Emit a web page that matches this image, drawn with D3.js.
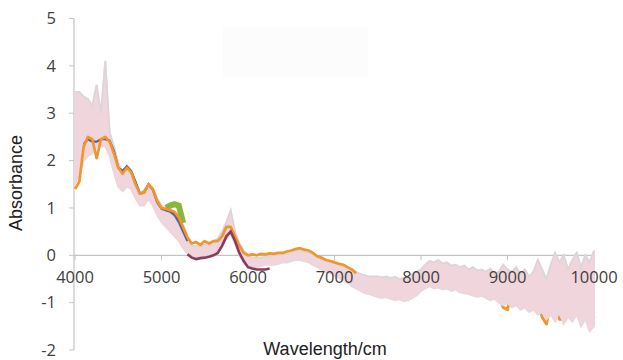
<!DOCTYPE html>
<html><head><meta charset="utf-8">
<script src="https://cdn.jsdelivr.net/npm/d3@7"></script>
<style>body{margin:0;background:#fff}svg{display:block}</style>
</head><body>
<svg id="c" width="623" height="360"></svg>
<script>
// Wavenumber grid (cm-1)
const wavenumber = [4000,4050,4100,4150,4200,4250,4300,4350,4400,4450,4500,4550,4600,4650,4700,4750,4800,4850,4900,4950,
5000,5050,5100,5150,5200,5250,5300,5350,5400,5450,5500,5550,5600,5650,5700,5750,5800,5850,5900,5950,
6000,6050,6100,6150,6200,6250,6300,6350,6400,6450,6500,6550,6600,6650,6700,6750,6800,6850,6900,6950,
7000,7050,7100,7150,7200,7250,7300,7350,7400,7450,7500,7550,7600,7650,7700,7750,7800,7850,7900,7950,
8000,8050,8100,8150,8200,8250,8300,8350,8400,8450,8500,8550,8600,8650,8700,8750,8800,8850,8900,8950,
9000,9050,9100,9150,9200,9250,9300,9350,9400,9450,9500,9550,9600,9650,9700,9750,9800,9850,9900,9950,10000];

// Upper edge of the overlapping spectra band
const bandTop = [3.45,3.45,3.35,3.3,3.15,3.6,3.0,4.1,2.6,2.3,1.95,1.75,1.8,1.7,1.45,1.3,1.35,1.5,1.4,1.2,
1.05,0.95,0.88,0.8,0.65,0.45,0.3,0.2,0.2,0.2,0.22,0.25,0.3,0.35,0.5,0.7,0.95,0.5,0.25,0.1,
0.0,-0.05,-0.05,-0.05,-0.03,-0.02,0.0,0.0,0.02,0.03,0.05,0.08,0.1,0.08,0.05,0.0,-0.05,-0.08,-0.1,-0.12,
-0.15,-0.18,-0.2,-0.25,-0.3,-0.35,-0.4,-0.42,-0.45,-0.45,-0.45,-0.47,-0.45,-0.48,-0.46,-0.5,-0.48,-0.45,-0.4,-0.35,
-0.3,-0.2,-0.12,-0.15,-0.1,-0.18,-0.15,-0.22,-0.2,-0.25,-0.22,-0.3,-0.25,-0.32,-0.3,-0.35,-0.28,-0.4,-0.35,-0.2,
-0.3,-0.35,-0.25,-0.4,-0.3,-0.45,-0.35,-0.1,-0.3,-0.5,-0.2,0.05,-0.15,0.0,-0.3,-0.1,0.05,-0.25,0.0,-0.15,0.1];

// Lower edge of the overlapping spectra band
const bandBottom = [1.5,1.7,2.0,2.1,2.15,2.3,2.3,2.3,2.1,1.75,1.45,1.35,1.45,1.4,1.2,1.05,1.05,1.2,1.05,0.85,
0.7,0.6,0.5,0.4,0.3,0.15,0.05,-0.02,-0.03,-0.02,0.0,0.02,0.05,0.1,0.2,0.35,0.45,0.25,0.0,-0.15,
-0.22,-0.25,-0.25,-0.22,-0.2,-0.2,-0.2,-0.18,-0.15,-0.15,-0.12,-0.1,-0.1,-0.12,-0.15,-0.2,-0.25,-0.3,-0.35,-0.38,
-0.42,-0.48,-0.52,-0.58,-0.65,-0.7,-0.75,-0.8,-0.82,-0.85,-0.88,-0.9,-0.88,-0.92,-0.95,-0.93,-0.97,-0.95,-0.9,-0.85,
-0.75,-0.7,-0.65,-0.7,-0.68,-0.72,-0.7,-0.75,-0.72,-0.78,-0.8,-0.82,-0.85,-0.88,-0.85,-0.9,-0.95,-0.92,-1.0,-1.05,
-1.0,-1.1,-1.05,-1.15,-1.1,-1.2,-1.15,-1.25,-1.2,-1.35,-1.25,-1.4,-1.2,-1.45,-1.3,-1.4,-1.25,-1.5,-1.35,-1.6,-1.5];

const orange = [1.4,1.55,2.3,2.5,2.45,2.05,2.45,2.5,2.4,2.15,1.85,1.72,1.85,1.75,1.5,1.3,1.32,1.5,1.4,1.15,
1.0,0.98,0.95,0.92,0.8,0.6,0.38,0.25,0.28,0.22,0.3,0.25,0.3,0.3,0.4,0.6,0.6,0.4,0.2,0.05,
0.0,0.02,0.0,0.03,0.02,0.04,0.03,0.05,0.05,0.08,0.1,0.13,0.15,0.12,0.1,0.05,-0.02,-0.05,-0.1,-0.12,
-0.15,-0.18,-0.2,-0.25,-0.3,-0.38,-0.55,-0.6,-0.62,-0.65,-0.68,-0.7,-0.7,-0.72,-0.75,-0.75,-0.78,-0.75,-0.7,-0.65,
-0.55,-0.45,-0.4,-0.42,-0.4,-0.45,-0.45,-0.5,-0.48,-0.52,-0.55,-0.58,-0.6,-0.62,-0.6,-0.65,-0.7,-0.75,-0.85,-1.1,
-1.15,-0.8,-0.85,-0.9,-0.85,-1.1,-0.9,-1.0,-1.3,-1.45,-1.0,-1.1,-1.35,-1.35,-1.0,-1.1,-1.0,-1.2,-1.1,-1.55,-1.3];

const lightBlue = [null,2.3,2.5,2.55,2.5,2.5,2.45,2.45,2.3,2.0,1.75,1.75,1.85,1.75,1.5,1.3,1.35,1.48,1.35,1.1,
0.95,0.8,0.7,0.55,0.4,0.25,0.1,0.0];

const navy = [null,null,2.35,2.45,2.4,2.4,2.45,2.45,2.42,2.2,1.85,1.78,1.88,1.78,1.55,1.3,1.33,1.5,1.38,1.12,
0.98,0.95,0.92,0.85,0.7,0.5,0.3];

const purple = [null,null,null,null,null,null,null,null,null,null,null,null,null,null,null,null,null,null,null,null,
null,0.95,0.95,0.9,0.78,0.55];

const green = [null,null,null,null,null,null,null,null,null,null,null,null,null,null,null,null,null,null,null,null,
null,1.0,1.05,1.08,1.05,0.68];

const maroon = [null,null,null,null,null,null,null,null,null,null,null,null,null,null,null,null,null,null,null,null,
null,null,null,null,null,null,0.02,-0.05,-0.08,-0.06,-0.05,-0.03,0.0,0.05,0.2,0.4,0.5,0.3,0.05,-0.12,
-0.25,-0.28,-0.3,-0.3,-0.3,-0.28];

const xTicks = [4000,5000,6000,7000,8000,9000,10000];
const yTicks = [-2,-1,0,1,2,3,4,5];

const svg = d3.select("#c");
const x = d3.scaleLinear().domain([4000,10000]).range([75,594]);
const y = d3.scaleLinear().domain([-2,5]).range([350,18.5]);

// faint legend remnant
svg.append("rect").attr("x",223).attr("y",27).attr("width",145).attr("height",50).attr("fill","#fcfcfc");

// axes lines
svg.append("line").attr("x1",x(4000)-1).attr("x2",x(4000)-1).attr("y1",y(5)).attr("y2",y(-2))
  .attr("stroke","#c4c4c4").attr("stroke-width",1.2);
svg.append("line").attr("x1",x(4000)-1).attr("x2",x(10000)).attr("y1",y(0)).attr("y2",y(0))
  .attr("stroke","#c4c4c4").attr("stroke-width",1.2);
svg.selectAll(".yt").data(yTicks).join("line").attr("x1",x(4000)-6).attr("x2",x(4000)-1)
  .attr("y1",d=>y(d)).attr("y2",d=>y(d)).attr("stroke","#c4c4c4");
svg.selectAll(".xt").data(xTicks).join("line").attr("x1",d=>x(d)).attr("x2",d=>x(d))
  .attr("y1",y(0)).attr("y2",y(0)+5).attr("stroke","#c4c4c4");

const pts = arr => wavenumber.map((w,i)=>[w, i<arr.length ? arr[i] : null]);
const line = d3.line().defined(d=>d[1]!=null).x(d=>x(d[0])).y(d=>y(d[1])).curve(d3.curveLinear);

const g = svg.append("g");
// orange tail beneath the band
g.append("path").attr("d",line(pts(orange).filter(d=>d[0]>=7200))).attr("fill","none")
  .attr("stroke","#f0962c").attr("stroke-width",3).attr("stroke-linejoin","round");
g.append("path").attr("d",line(pts(lightBlue))).attr("fill","none").attr("stroke","#a8d0e4").attr("stroke-width",3.5);
// band
const area = d3.area().x((d,i)=>x(wavenumber[i])).y0((d,i)=>y(bandBottom[i])).y1((d,i)=>y(bandTop[i]));
g.append("path").attr("d",area(wavenumber)).attr("fill","#f0d5dc").attr("stroke","#ecd6dc").attr("stroke-width",2);
g.append("path").attr("d",line(pts(bandTop))).attr("fill","none").attr("stroke","#d6d6da").attr("stroke-width",1.6).attr("opacity",0.8);
g.append("path").attr("d",line(pts(green))).attr("fill","none").attr("stroke","#8db43c").attr("stroke-width",6);
g.append("path").attr("d",line(pts(navy))).attr("fill","none").attr("stroke","#55648f").attr("stroke-width",2.2);
g.append("path").attr("d",line(pts(purple))).attr("fill","none").attr("stroke","#7a52a2").attr("stroke-width",2.5);
g.append("path").attr("d",line(pts(orange).filter(d=>d[0]<=7250))).attr("fill","none")
  .attr("stroke","#f0962c").attr("stroke-width",2.7).attr("stroke-linejoin","round");
g.append("path").attr("d",line(pts(maroon))).attr("fill","none").attr("stroke","#8e3a5c").attr("stroke-width",2.6);

// tick labels
const font = "'Open Sans', 'Liberation Sans', sans-serif";
svg.selectAll(".yl").data(yTicks).join("text").attr("x",56).attr("y",d=>y(d)).attr("dy","0.35em")
  .attr("text-anchor","end").attr("font-family",font).attr("font-size",16.5).attr("fill","#404040").text(d=>d);
svg.selectAll(".xl").data(xTicks).join("text").attr("x",d=>x(d)).attr("y",y(0)+22).attr("dy","0.35em")
  .attr("text-anchor","middle").attr("font-family",font).attr("font-size",16.5).attr("fill","#404040").text(d=>d);

// titles
svg.append("text").attr("x",325).attr("y",349).attr("dy","0.35em").attr("text-anchor","middle")
  .attr("font-family","'Liberation Sans', Arial, sans-serif").attr("font-size",18).attr("fill","#222").text("Wavelength/cm");
svg.append("text").attr("transform","translate(16,183) rotate(-90)").attr("dy","0.35em").attr("text-anchor","middle")
  .attr("font-family","'Liberation Sans', Arial, sans-serif").attr("font-size",18).attr("fill","#222").text("Absorbance");
</script>
</body></html>
